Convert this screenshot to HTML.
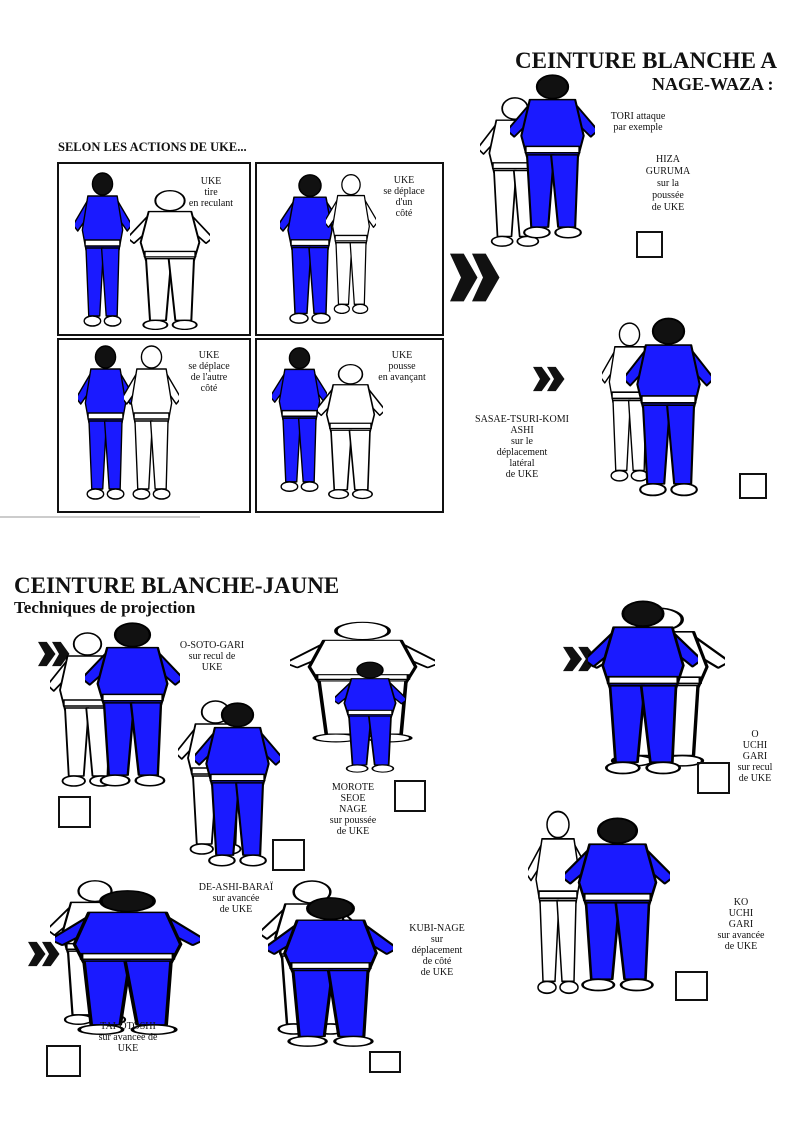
<!DOCTYPE html>
<html><head><meta charset="utf-8"><style>
html,body{margin:0;padding:0;background:#fff;}
svg{display:block}
text{font-family:"Liberation Serif",serif;fill:#111}
.b{font-weight:700}
</style></head><body>
<svg width="800" height="1132" viewBox="0 0 800 1132" xmlns="http://www.w3.org/2000/svg">
<defs>
<symbol id="bp" viewBox="0 0 60 160" preserveAspectRatio="none">
<g stroke="#000" stroke-width="1.5" stroke-linejoin="round">
<polygon fill="#1a1aff" points="46,30 62,55 57,61 44,44"/>
<polygon fill="#1a1aff" points="14,30 -2,55 3,61 16,44"/>
<polygon fill="#1a1aff" points="14,26 46,26 52,60 48,80 12,80 8,60"/>
<polygon fill="#1a1aff" points="12,78 31,78 27,146 15,146"/>
<polygon fill="#1a1aff" points="29,78 48,78 46,146 34,146"/>
<rect x="11" y="70" width="38" height="6" fill="#fff"/>
<ellipse cx="19" cy="151" rx="9" ry="5" fill="#fff"/>
<ellipse cx="41" cy="151" rx="9" ry="5" fill="#fff"/>
<circle cx="30" cy="14" r="11" fill="#111"/>
</g></symbol>
<symbol id="wp" viewBox="0 0 60 160" preserveAspectRatio="none">
<g stroke="#000" stroke-width="1.5" stroke-linejoin="round" fill="#fff">
<polygon points="46,30 62,55 57,61 44,44"/>
<polygon points="14,30 -2,55 3,61 16,44"/>
<polygon points="14,26 46,26 52,60 48,80 12,80 8,60"/>
<polygon points="12,78 31,78 27,146 15,146"/>
<polygon points="29,78 48,78 46,146 34,146"/>
<rect x="11" y="70" width="38" height="6"/>
<ellipse cx="19" cy="151" rx="9" ry="5"/>
<ellipse cx="41" cy="151" rx="9" ry="5"/>
<circle cx="30" cy="14" r="11"/>
</g></symbol>
<symbol id="chev" viewBox="0 0 40 30" preserveAspectRatio="none">
<polygon fill="#111" points="0,2 10,2 20,15 10,28 0,28 8,15"/>
<polygon fill="#111" points="16,2 26,2 36,15 26,28 16,28 24,15"/>
</symbol>
</defs>

<text class="b" x="515" y="68" font-size="23">CEINTURE BLANCHE A</text>
<text class="b" x="652" y="90" font-size="18">NAGE-WAZA :</text>
<text class="b" x="58" y="151" font-size="12.5">SELON LES ACTIONS DE UKE...</text>

<g fill="none" stroke="#111" stroke-width="2">
<rect x="58" y="163" width="192" height="172"/>
<rect x="256" y="163" width="187" height="172"/>
<rect x="58" y="339" width="192" height="173"/>
<rect x="256" y="339" width="187" height="173"/>
</g>
<use href="#bp" x="75" y="170" width="55" height="160"/>
<use href="#wp" x="130" y="188" width="80" height="145"/>
<use href="#bp" x="280" y="172" width="60" height="155"/>
<use href="#wp" x="326" y="172" width="50" height="145"/>
<use href="#bp" x="78" y="343" width="55" height="160"/>
<use href="#wp" x="124" y="343" width="55" height="160"/>
<use href="#bp" x="272" y="345" width="55" height="150"/>
<use href="#wp" x="318" y="362" width="65" height="140"/>
<g font-size="10" text-anchor="middle">
<text x="211" y="184">UKE</text><text x="211" y="195">tire</text><text x="211" y="206">en reculant</text>
<text x="404" y="183">UKE</text><text x="404" y="194">se déplace</text><text x="404" y="205">d'un</text><text x="404" y="216">côté</text>
<text x="209" y="358">UKE</text><text x="209" y="369">se déplace</text><text x="209" y="380">de l'autre</text><text x="209" y="391">côté</text>
<text x="402" y="358">UKE</text><text x="402" y="369">pousse</text><text x="402" y="380">en avançant</text>
</g>

<use href="#wp" x="480" y="95" width="70" height="155"/>
<use href="#bp" x="510" y="72" width="85" height="170"/>
<g font-size="10" text-anchor="middle">
<text x="638" y="119">TORI attaque</text><text x="638" y="130">par exemple</text>
<text x="668" y="162">HIZA</text><text x="668" y="174">GURUMA</text><text x="668" y="186">sur la</text><text x="668" y="198">poussée</text><text x="668" y="210">de UKE</text>
</g>
<rect x="637" y="232" width="25" height="25" fill="none" stroke="#111" stroke-width="2"/>
<use href="#chev" x="450" y="250" width="55" height="55"/>

<use href="#chev" x="533" y="365" width="35" height="28"/>
<use href="#wp" x="602" y="320" width="55" height="165"/>
<use href="#bp" x="626" y="315" width="85" height="185"/>
<g font-size="10" text-anchor="middle">
<text x="522" y="422">SASAE-TSURI-KOMI</text><text x="522" y="433">ASHI</text><text x="522" y="444">sur le</text><text x="522" y="455">déplacement</text><text x="522" y="466">latéral</text><text x="522" y="477">de UKE</text>
</g>
<rect x="740" y="474" width="26" height="24" fill="none" stroke="#111" stroke-width="2"/>
<line x1="0" y1="517" x2="200" y2="517" stroke="#ccc" stroke-width="2"/>

<text class="b" x="14" y="593" font-size="23">CEINTURE BLANCHE-JAUNE</text>
<text class="b" x="14" y="613" font-size="17">Techniques de projection</text>

<use href="#chev" x="38" y="640" width="35" height="28"/>
<use href="#wp" x="50" y="630" width="75" height="160"/>
<use href="#bp" x="85" y="620" width="95" height="170"/>
<g font-size="10" text-anchor="middle">
<text x="212" y="648">O-SOTO-GARI</text><text x="212" y="659">sur recul de</text><text x="212" y="670">UKE</text>
</g>
<rect x="59" y="797" width="31" height="30" fill="none" stroke="#111" stroke-width="2"/>

<use href="#wp" x="290" y="620" width="145" height="125"/>
<use href="#bp" x="335" y="660" width="70" height="115"/>
<g font-size="10" text-anchor="middle">
<text x="353" y="790">MOROTE</text><text x="353" y="801">SEOE</text><text x="353" y="812">NAGE</text><text x="353" y="823">sur poussée</text><text x="353" y="834">de UKE</text>
</g>
<rect x="395" y="781" width="30" height="30" fill="none" stroke="#111" stroke-width="2"/>

<use href="#wp" x="178" y="698" width="75" height="160"/>
<use href="#bp" x="195" y="700" width="85" height="170"/>
<g font-size="10" text-anchor="middle">
<text x="236" y="890">DE-ASHI-BARAÏ</text><text x="236" y="901">sur avancée</text><text x="236" y="912">de UKE</text>
</g>
<rect x="273" y="840" width="31" height="30" fill="none" stroke="#111" stroke-width="2"/>

<use href="#chev" x="28" y="940" width="35" height="28"/>
<use href="#wp" x="50" y="878" width="90" height="150"/>
<use href="#bp" x="55" y="888" width="145" height="150"/>
<g font-size="10" text-anchor="middle">
<text x="128" y="1029">TAI-OTOSHI</text><text x="128" y="1040">sur avancée de</text><text x="128" y="1051">UKE</text>
</g>
<rect x="47" y="1046" width="33" height="30" fill="none" stroke="#111" stroke-width="2"/>

<use href="#wp" x="262" y="878" width="100" height="160"/>
<use href="#bp" x="268" y="895" width="125" height="155"/>
<g font-size="10" text-anchor="middle">
<text x="437" y="931">KUBI-NAGE</text><text x="437" y="942">sur</text><text x="437" y="953">déplacement</text><text x="437" y="964">de côté</text><text x="437" y="975">de UKE</text>
</g>
<rect x="370" y="1052" width="30" height="20" fill="none" stroke="#111" stroke-width="2"/>

<use href="#chev" x="563" y="645" width="38" height="28"/>
<use href="#wp" x="590" y="605" width="135" height="165"/>
<use href="#bp" x="588" y="598" width="110" height="180"/>
<g font-size="10" text-anchor="middle">
<text x="755" y="737">O</text><text x="755" y="748">UCHI</text><text x="755" y="759">GARI</text><text x="755" y="770">sur recul</text><text x="755" y="781">de UKE</text>
</g>
<rect x="698" y="763" width="31" height="30" fill="none" stroke="#111" stroke-width="2"/>

<use href="#wp" x="528" y="808" width="60" height="190"/>
<use href="#bp" x="565" y="815" width="105" height="180"/>
<g font-size="10" text-anchor="middle">
<text x="741" y="905">KO</text><text x="741" y="916">UCHI</text><text x="741" y="927">GARI</text><text x="741" y="938">sur avancée</text><text x="741" y="949">de UKE</text>
</g>
<rect x="676" y="972" width="31" height="28" fill="none" stroke="#111" stroke-width="2"/>
</svg>
</body></html>
